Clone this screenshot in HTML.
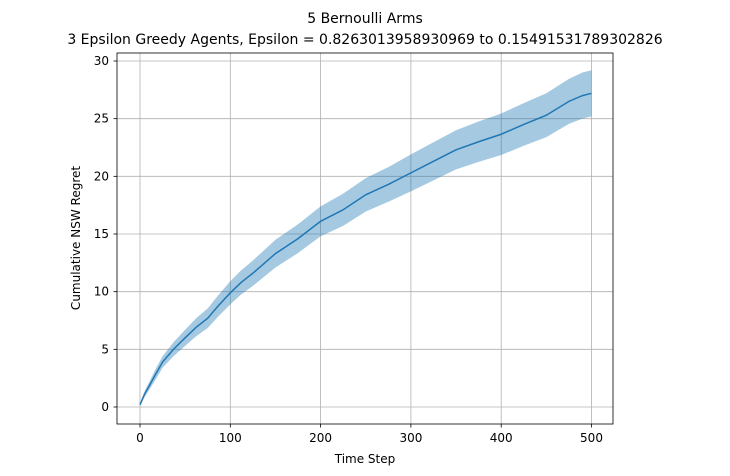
<!DOCTYPE html>
<html><head><meta charset="utf-8"><style>
body{margin:0;background:#fff;}
svg{display:block;font-family:"DejaVu Sans","Liberation Sans",sans-serif;}
</style></head><body>
<svg id="chart" width="730" height="476" viewBox="0 0 730 476">
<text x="365" y="23" text-anchor="middle" font-size="14">5 Bernoulli Arms</text>
<text x="365" y="44" text-anchor="middle" font-size="14">3 Epsilon Greedy Agents, Epsilon = 0.8263013958930969 to 0.15491531789302826</text>
<g id="grid"></g>
<path id="band" fill="#1f77b4" fill-opacity="0.4" stroke="none"></path>
<path id="line" fill="none" stroke="#1f77b4" stroke-width="1.5"></path>
<rect x="117" y="53" width="496" height="371" fill="none" stroke="#000" stroke-width="0.8"></rect>
<g id="ticks" font-size="12"></g>
<text x="365" y="463" text-anchor="middle" font-size="12">Time Step</text>
<text transform="translate(80,238) rotate(-90)" text-anchor="middle" font-size="12">Cumulative NSW Regret</text>
</svg>
<script>
const steps=[0,5,10,17,25,37,50,62,75,87,100,112,125,150,175,200,225,250,275,300,325,350,375,400,425,450,475,490,500];
const meanRegret=[0.2,1.1,1.8,2.8,3.9,5.0,6.0,6.9,7.7,8.8,9.9,10.8,11.6,13.3,14.6,16.1,17.1,18.4,19.3,20.3,21.3,22.3,23.0,23.65,24.5,25.3,26.5,27.0,27.2];
const halfWidth=[0.1,0.25,0.35,0.45,0.5,0.6,0.7,0.78,0.85,0.92,1.0,1.05,1.1,1.2,1.25,1.3,1.4,1.45,1.5,1.6,1.65,1.7,1.75,1.8,1.85,1.9,1.95,2.0,2.0];
const xTicks=[0,100,200,300,400,500];
const yTicks=[0,5,10,15,20,25,30];
const X=t=>140+(t/500)*451.5;
const Y=v=>407-(v/30)*346;
const NS="http://www.w3.org/2000/svg";
const grid=document.getElementById('grid'),ticks=document.getElementById('ticks');
function mk(tag,attrs,parent){const e=document.createElementNS(NS,tag);for(const k in attrs)e.setAttribute(k,attrs[k]);parent.appendChild(e);return e;}
xTicks.forEach(t=>{
  const g=mk('line',{x1:X(t),x2:X(t),y1:53,y2:424,stroke:'#b0b0b0','stroke-width':0.8},grid);
  
  
  mk('line',{x1:X(t),x2:X(t),y1:424,y2:427.5,stroke:'#000','stroke-width':0.8},ticks);
  const tx=mk('text',{x:X(t),y:442,'text-anchor':'middle'},ticks);tx.textContent=t;
  
  
});
yTicks.forEach(v=>{
  const g=mk('line',{x1:117,x2:613,y1:Y(v),y2:Y(v),stroke:'#b0b0b0','stroke-width':0.8},grid);
  
  
  mk('line',{x1:113.5,x2:117,y1:Y(v),y2:Y(v),stroke:'#000','stroke-width':0.8},ticks);
  const tx=mk('text',{x:109,y:Y(v)+4,'text-anchor':'end'},ticks);tx.textContent=v;
  
  
});
let up=steps.map((t,i)=>X(t)+','+Y(meanRegret[i]+halfWidth[i]));
let dn=steps.map((t,i)=>X(t)+','+Y(meanRegret[i]-halfWidth[i])).reverse();
document.getElementById('band').setAttribute('d','M'+up.join('L')+'L'+dn.join('L')+'Z');
document.getElementById('line').setAttribute('d','M'+steps.map((t,i)=>X(t)+','+Y(meanRegret[i])).join('L'));
</script>
</body></html>
